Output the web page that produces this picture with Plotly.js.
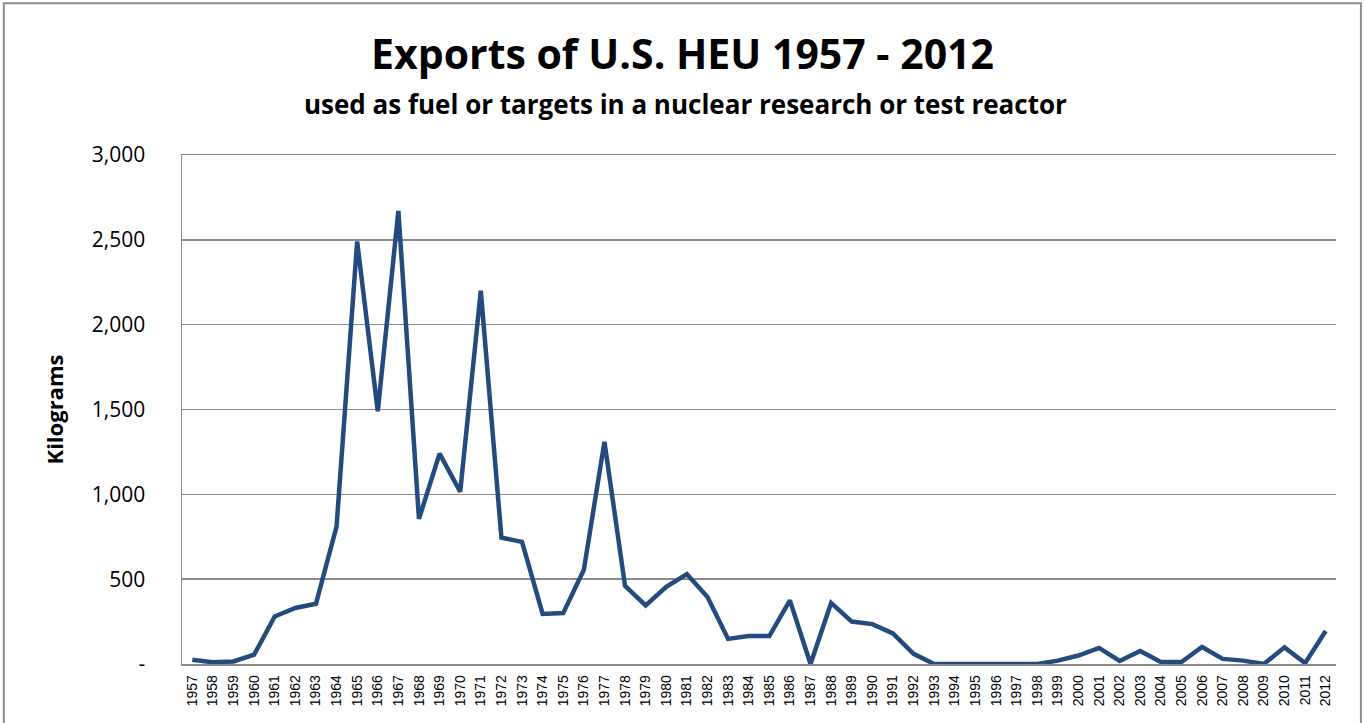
<!DOCTYPE html>
<html>
<head>
<meta charset="utf-8">
<script src="https://cdn.plot.ly/plotly-3.0.1.min.js"></script>
<style>
html,body{margin:0;padding:0;background:#fff;}
#chart{width:1365px;height:723px;}
</style>
</head>
<body>
<div id="chart"></div>
<script>
const years = ["1957","1958","1959","1960","1961","1962","1963","1964","1965","1966","1967","1968","1969","1970","1971","1972","1973","1974","1975","1976","1977","1978","1979","1980","1981","1982","1983","1984","1985","1986","1987","1988","1989","1990","1991","1992","1993","1994","1995","1996","1997","1998","1999","2000","2001","2002","2003","2004","2005","2006","2007","2008","2009","2010","2011","2012"];
const kilograms = [25,10,15,55,280,330,355,810,2490,1490,2670,855,1240,1015,2200,745,720,295,300,555,1310,460,345,455,530,395,148,165,165,375,0,360,250,235,180,60,0,0,0,0,0,0,20,50,95,18,77,12,12,100,30,20,0,98,5,195];
const yTickVals = [0,500,1000,1500,2000,2500,3000];
const yTickText = ["-","500","1,000","1,500","2,000","2,500","3,000"];
const titleText = "Exports of U.S. HEU 1957 - 2012";
const subtitleText = "used as fuel or targets in a nuclear research or test reactor";
const yTitle = "Kilograms";

const trace = {
  x: years, y: kilograms, type: 'scatter', mode: 'lines',
  line: {color: '#234b7e', width: 4.5}, hoverinfo: 'x+y'
};
const layout = {
  width: 1365, height: 723,
  margin: {l: 182, r: 29, t: 155, b: 59},
  paper_bgcolor: '#fff', plot_bgcolor: '#fff',
  showlegend: false,
  font: {family: 'Open Sans, Liberation Sans, sans-serif', color: '#000'},
  title: {text: '<b>' + titleText + '</b>', font: {size: 41, color: '#000', family: 'Open Sans, sans-serif'},
          x: 0.5, xanchor: 'center', xref: 'container', y: 0.925, yanchor: 'middle', yref: 'container'},
  annotations: [{
    text: '<b>' + subtitleText + '</b>', xref: 'paper', yref: 'paper', x: 0.436, y: 1.1,
    xanchor: 'center', yanchor: 'middle', showarrow: false,
    font: {size: 26, color: '#000', family: 'Open Sans, sans-serif'}
  }],
  xaxis: {
    type: 'category', range: [-0.5, 55.5], tickangle: -90,
    tickfont: {size: 14, family: 'Liberation Sans, Arial, sans-serif', color: '#000'},
    showgrid: false, showline: true, mirror: true, linecolor: '#8c8c8c', linewidth: 1.5,
    ticks: '', ticklabelstandoff: 4, fixedrange: true
  },
  yaxis: {
    range: [0, 3000], tickvals: yTickVals, ticktext: yTickText,
    tickfont: {size: 21, family: 'Open Sans, sans-serif', color: '#000'},
    showgrid: true, gridcolor: '#8c8c8c', gridwidth: 1.5,
    showline: true, linecolor: '#8c8c8c', linewidth: 1.5, zeroline: false,
    ticks: '', ticklabelstandoff: 31,
    title: {text: '<b>' + yTitle + '</b>', font: {size: 22, color: '#000', family: 'Open Sans, sans-serif'}, standoff: 22},
    fixedrange: true
  },
  shapes: [{
    type: 'rect', xref: 'paper', yref: 'paper',
    x0: -0.1544, x1: 1.0216, y0: -0.3, y1: 1.298,
    line: {color: '#8c8c8c', width: 2}, fillcolor: 'rgba(0,0,0,0)', layer: 'below'
  }]
};
Plotly.newPlot('chart', [trace], layout, {displayModeBar: false, staticPlot: true});
</script>
</body>
</html>
